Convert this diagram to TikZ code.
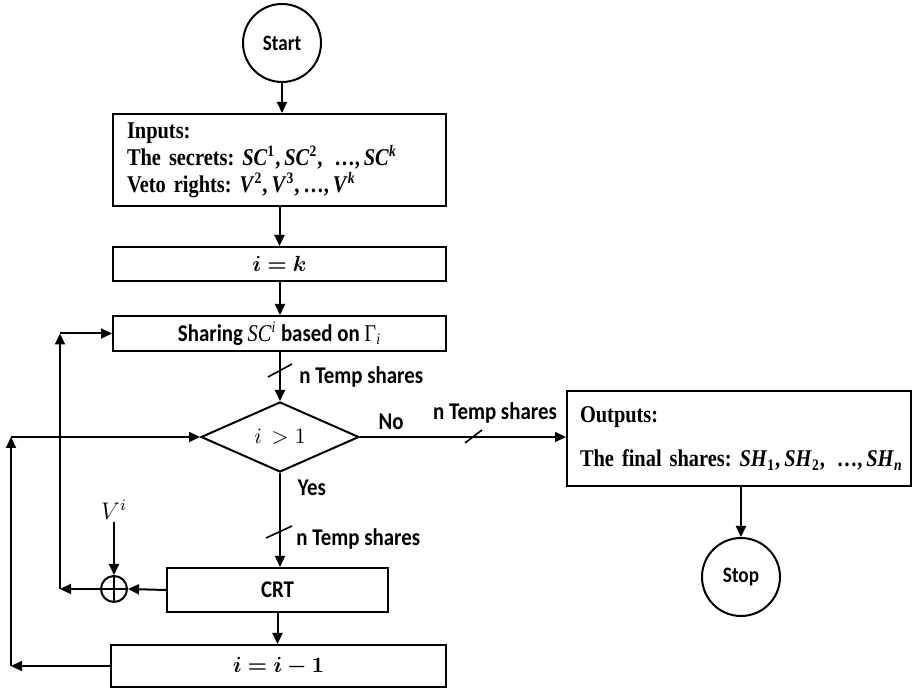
\documentclass[tikz,border=0pt,12pt]{standalone}
\usepackage{amsmath,bm}
\usepackage{fontspec}
\setmainfont{Liberation Serif}[FakeStretch=0.85, WordSpace=0.8]
\newfontfamily\calibri{Carlito}[FakeStretch=0.87]
\usetikzlibrary{shapes.geometric,arrows.meta,positioning}
\frenchspacing

\newcommand\mv[1]{\textbf{\textit{#1}}}

\tikzset{
  flow/.style={draw, line width=1pt},
  box/.style={flow, rectangle, inner sep=0pt, font=\fontsize{12}{13.5}\selectfont\calibri\bfseries},
  serifbox/.style={flow, rectangle, inner sep=0pt, align=left,
    font=\fontsize{12}{13.5}\selectfont\rmfamily\bfseries},
  term/.style={flow, circle, minimum size=39pt, inner sep=0pt, font=\fontsize{11}{13}\selectfont\calibri\bfseries},
  cond/.style={flow, diamond, inner sep=0pt, minimum width=79pt, minimum height=35pt, font=\fontsize{11}{13}\selectfont},
  arr/.style={line width=1pt, -{Triangle[length=5.5pt,width=5pt]}},
  lbl/.style={font=\fontsize{12}{13.5}\selectfont\calibri\bfseries, inner sep=0pt},
  tick/.style={line width=0.8pt}
}

\begin{document}
\begin{tikzpicture}[x=0.5pt, y=-0.5pt]
  \useasboundingbox (0,0) rectangle (912,689);

  % Nodes
  \node[term] (start) at (282,43) {Start};
  \node[serifbox, text width=152.5pt, inner xsep=7pt, minimum height=46pt] (inputs) at (279.5,160)
    {Inputs:\\
     The secrets: \mv{SC}\textsuperscript{1},\,\mv{SC}\textsuperscript{2},\enspace\dots,\,\mv{SC}\textsuperscript{\itshape k}\\
     Veto rights: \mv{V}\textsuperscript{2},\,\mv{V}\textsuperscript{3},\,\dots,\,\mv{V}\textsuperscript{\itshape k}};
  \node[box, minimum width=166.5pt, minimum height=17pt, font=\fontsize{10.5}{12}\selectfont] (ik) at (279.5,264) {$\bm{i=k}$};
  \node[box, minimum width=166.5pt, minimum height=17.5pt] (share) at (279.5,333.5)
    {Sharing {\rmfamily\mdseries\itshape SC\textsuperscript{i}} based on {\rmfamily\mdseries Γ\textsubscript{\itshape i}}};
  \node[cond] (dec) at (280,437) {$i\ >1$};
  \node[box, minimum width=110.5pt, minimum height=22pt] (crt) at (277.5,590) {CRT};
  \node[box, minimum width=167.5pt, minimum height=21pt, font=\fontsize{10.5}{12}\selectfont] (step) at (278.5,666) {$\bm{i=i-1}$};
  \node[flow, circle, minimum size=13pt, inner sep=0pt] (xor) at (114,589) {};
  \node[inner sep=1pt, font=\fontsize{12}{14}\selectfont] (vi) at (114,510) {$V^i$};
  \node[serifbox, text width=159pt, inner xsep=6.5pt, minimum height=47.5pt] (outputs) at (739,438.5)
    {Outputs:\\[8.5pt]
     \mbox{The final shares: \mv{SH}\textsubscript{1},\,\mv{SH}\textsubscript{2},\enspace\dots,\,\mv{SH}\textsubscript{\itshape n}}};
  \node[term] (stop) at (741,577) {Stop};

  \coordinate (inner) at (60,589);
  \coordinate (outer) at (11,666);

  % Plus sign
  \draw[line width=0.8pt] (xor.north) -- (xor.south) (xor.west) -- (xor.east);

  % Main flow
  \draw[arr] (start) -- (start |- inputs.north);
  \draw[arr] (inputs.south -| ik) -- (ik.north);
  \draw[arr] (ik.south -| dec) -- (dec |- share.north);
  \draw[arr] (share.south -| dec) -- (dec.north);
  \draw[arr] (dec.south) -- (dec |- crt.north);
  \draw[arr] (crt.south) -- (crt.south |- step.north);
  \draw[arr] (dec.east) -- (dec.east -| outputs.west);
  \draw[arr] (outputs.south -| stop) -- (stop.north);

  % Loops
  \draw[arr] (crt.west) -- (xor.east);
  \draw[arr] (vi.south) -- (xor.north);
  \draw[arr] (xor.west) -- (inner);
  \draw[arr] (inner) -- (inner |- share.west);
  \draw[arr] (inner |- share.west) -- (share.west);
  \draw[arr] (step.west) -- (outer);
  \draw[arr] (outer) -- (outer |- dec.west);
  \draw[arr] (outer |- dec.west) -- (dec.west);

  % Ticks
  \draw[tick] (268,377) -- (292,364);
  \draw[tick] (266,538) -- (292,526);
  \draw[tick] (465,443) -- (482,430);

  % Labels
  \node[lbl, anchor=west] (t1) at (299,377) {n Temp shares};
  \node[lbl] (t2) at (495,413) {n Temp shares};
  \node[lbl, anchor=west] (t3) at (296,539) {n Temp shares};
  \node[lbl] (no) at (391,422) {No};
  \node[lbl] (yes) at (312,488) {Yes};
\end{tikzpicture}
\end{document}
